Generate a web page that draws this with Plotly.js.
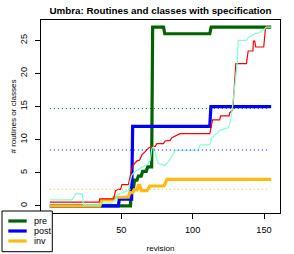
<!DOCTYPE html>
<html><head><meta charset="utf-8">
<script src="https://cdn.plot.ly/plotly-3.0.1.min.js"></script>
<style>html,body{margin:0;padding:0;background:#fff;}#chart{width:294px;height:254px;}</style>
</head><body><div id="chart"></div>
<script>
// ---- data ----
const preX  = [0, 56.5, 57, 58.6, 59.3, 61, 62, 64, 65, 67.5, 68.5, 71.3, 72, 79.6, 80.5, 112, 113, 155];
const preY  = [0, 0, 2.7, 2.7, 3.9, 3.9, 4.5, 4.5, 5.2, 5.2, 5.9, 5.9, 27, 27, 26, 26, 27, 27];
const postX = [0, 48, 48.6, 57.3, 58, 112, 112.8, 155];
const postY = [0, 0, 1, 1, 12, 12, 15, 15];
const invX  = [0, 35, 36.5, 44, 45, 55, 56, 58, 59, 61, 62, 63, 64, 68, 70, 80, 82, 155];
const invY  = [0, 0, 0.9, 0.9, 1.3, 1.3, 2, 2, 2.4, 2.4, 3.1, 3.1, 2.3, 2.3, 3, 3, 4, 4];
const redX  = [0, 34.5, 35, 44.7, 46, 48, 49.5, 50.5, 55, 57.5, 58.6, 61, 62.8, 64.5, 66.8, 69, 71.5, 73.8, 75, 79.6,
               80.7, 84.2, 85.4, 90, 91.2, 112, 113.5, 114, 119, 119.6, 125.6, 126, 128, 128.4, 130.3, 137.7, 138.9, 142.2, 142.6, 143.5,
               144.2, 149.8, 151, 151.7, 155];
const redY  = [0.55, 0.55, 1.05, 1.05, 2.3, 2.5, 2.5, 3.2, 3.2, 5.7, 6.2, 6.8, 6.9, 7.7, 8.2, 8.7, 9.0, 9.0, 9.4, 9.4,
               9.8, 9.9, 10.3, 10.7, 10.9, 10.9, 12.2, 13.0, 13.0, 13.6, 13.6, 14.05, 14.5, 15.4, 21.5, 21.5, 23.4, 23.4, 24.9, 24.9,
               24.0, 24.0, 26.8, 27.0, 27.0];
const aquaX = [0, 15.6, 18, 22.6, 23.7, 35, 36, 43, 44, 46, 47, 50, 52, 55, 56, 57.5, 59.8, 63.3, 68, 70.3,
               71.5, 72.6, 73.8, 75, 76.2, 80.7, 83, 85.4, 87.7, 104, 105.2, 112, 113.3, 116.8, 119.1, 125, 126.1, 127.7, 128.4, 131.2,
               131.9, 137.7, 138.9, 141.2, 143.5, 146, 148, 150.5, 151.5, 155];
const aquaY = [0.9, 0.9, 1.8, 1.8, 0.15, 0.15, 0.4, 0.4, 0.7, 0.8, 1.7, 1.9, 2.1, 2.3, 3.5, 4.7, 5.2, 5.7, 6.2, 6.9,
               8.7, 8.9, 8.2, 6.9, 6.4, 6.1, 6.7, 7.4, 8.4, 8.4, 9.2, 9.2, 10.2, 10.9, 11.4, 11.8, 12.5, 14.5, 16, 21.5,
               25.0, 25.0, 25.4, 25.7, 26.0, 26.1, 26.4, 26.7, 27, 27];
const legendNames = ['pre', 'post', 'inv'];
const meanValues  = [14.7, 8.44, 2.5];   // pre, post, inv averages (dotted)
const meanSpan    = [0, 154];
const xTicks = [50, 100, 150];           // the 0 tick sits under the legend box
const yTicks = [0, 5, 10, 15, 20, 25];
const titleText = 'Umbra: Routines and classes with specification';
const xTitle = 'revision';
const yTitle = '# routines or classes';

// ---- styles ----
const FONT = 'Liberation Sans, Arial, Helvetica, sans-serif';
const C = {pre:'#006400', post:'#0000FF', inv:'#FFB90F', red:'#FF0000', aqua:'#7FFFD4'};
const THICK = 3.2, THIN = 1.2;
const W = 294, H = 254, M = {l:41, r:14, t:20, b:41};
const px2x = px => (px - M.l) / (W - M.l - M.r);
const py2y = py => (H - M.b - py) / (H - M.t - M.b);

const traces = [
  {x:preX,  y:preY,  name:legendNames[0], mode:'lines', line:{color:C.pre,  width:THICK}},
  {x:postX, y:postY, name:legendNames[1], mode:'lines', line:{color:C.post, width:THICK}},
  {x:invX,  y:invY,  name:legendNames[2], mode:'lines', line:{color:C.inv,  width:THICK}},
  {x:redX,  y:redY,  name:'red',  mode:'lines', line:{color:C.red,  width:THIN}},
  {x:aquaX, y:aquaY, name:'aquamarine', mode:'lines', line:{color:C.aqua, width:THIN}},
];
const meanColors = [C.pre, C.post, C.inv];
meanValues.forEach((v, i) => traces.push({
  x: meanSpan, y: [v, v], mode:'lines', name: legendNames[i] + ' mean',
  line:{color: meanColors[i], width:1, dash:'1px,3px'}
}));
traces.forEach(t => { t.showlegend = false; t.hoverinfo = 'skip'; });

// manual R-style legend (box, samples, labels)
const legBox = {x0:2, x1:52.3, y0:211, y1:251.7};
const legRows = [221, 231, 241];
const shapes = [{type:'rect', xref:'paper', yref:'paper', layer:'above',
  x0:px2x(legBox.x0), x1:px2x(legBox.x1), y0:py2y(legBox.y1), y1:py2y(legBox.y0),
  fillcolor:'#fff', line:{color:'#000', width:1}}];
const annotations = [];
legendNames.forEach((n, i) => {
  shapes.push({type:'line', xref:'paper', yref:'paper', layer:'above',
    x0:px2x(8.3), x1:px2x(26.7), y0:py2y(legRows[i]), y1:py2y(legRows[i]),
    line:{color:meanColors[i], width:THICK}});
  annotations.push({xref:'paper', yref:'paper', x:px2x(31.5), y:py2y(legRows[i]),
    xanchor:'left', yanchor:'middle', showarrow:false, text:n,
    font:{family:FONT, size:9, color:'#000'}});
});

const axisCommon = {showline:true, linecolor:'#000', linewidth:1, mirror:true, ticks:'outside',
  ticklen:5, tickwidth:1, tickcolor:'#000', showgrid:false, zeroline:false, automargin:false,
  tickfont:{family:FONT, size:9.2, color:'#000'}};

const layout = {
  width:W, height:H, margin:M, paper_bgcolor:'#fff', plot_bgcolor:'#fff', showlegend:false,
  title:{text:titleText, font:{family:FONT, size:9.8, weight:'bold', color:'#000'},
    x:0.5, xref:'paper', y:1 - 10.5/H, yref:'container', yanchor:'middle'},
  xaxis:Object.assign({}, axisCommon, {range:[-6.2, 161.2], tickvals:xTicks, ticklabelstandoff:3,
    title:{text:xTitle, font:{family:FONT, size:8.1, color:'#000'}}}),
  yaxis:Object.assign({}, axisCommon, {range:[-1.08, 28.08], tickvals:yTicks, tickangle:-90, ticklabelstandoff:4,
    title:{text:yTitle, font:{family:FONT, size:8.1, color:'#000'}}}),
  shapes:shapes, annotations:annotations
};
Plotly.newPlot('chart', traces, layout, {staticPlot:true, displayModeBar:false}).then(gd => {
  // small nudges of the axis titles to match the reference placement
  const nudge = (sel, dx, dy) => {
    const el = gd.querySelector(sel);
    if (el) { const t = el.getAttribute('transform') || ''; el.setAttribute('transform', 'translate(' + dx + ',' + dy + ') ' + t); }
  };
  nudge('.g-xtitle text', 0, 4);
  nudge('.g-ytitle text', 1.5, 0);
});
</script></body></html>
